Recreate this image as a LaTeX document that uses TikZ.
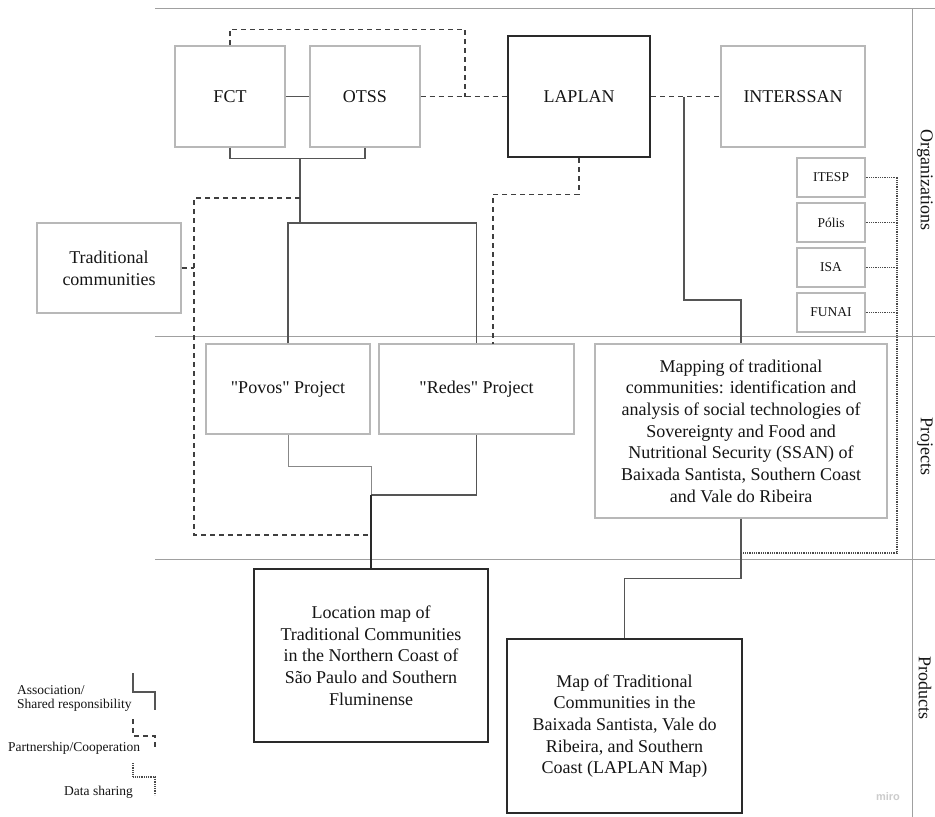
\documentclass[tikz,border=0pt]{standalone}
\usepackage{fontspec}
\setmainfont{Liberation Serif}
\newfontfamily\mirofont{Liberation Sans}
\definecolor{boxgray}{HTML}{B8B8B8}
\definecolor{sepgray}{HTML}{A0A0A0}
\definecolor{linegray}{HTML}{555555}
\definecolor{darkline}{HTML}{2A2A2A}
\definecolor{txt}{HTML}{151515}
\tikzset{
  lbox/.style={draw=boxgray, line width=1.1pt, fill=white, inner sep=0pt, align=center, text=txt, font=\fontsize{18}{21.7}\selectfont},
  kbox/.style={draw=darkline, line width=2.2pt, fill=white, inner sep=0pt, align=center, text=txt, font=\fontsize{18}{21.7}\selectfont},
  sbox/.style={draw=boxgray, line width=1.1pt, fill=white, inner sep=0pt, align=center, text=txt, font=\fontsize{13.5}{15}\selectfont, minimum width=68pt, minimum height=39pt},
  assoc/.style={draw=linegray, line width=1.2pt},
  assocl/.style={draw=linegray!70, line width=1pt},
  assock/.style={draw=darkline, line width=1.8pt},
  partner/.style={draw=darkline!90, line width=1.2pt, dash pattern=on 5pt off 4pt},
  share/.style={draw=darkline!85, line width=1.1pt, dash pattern=on 1pt off 0.8pt},
  sepline/.style={draw=sepgray, line width=0.9pt},
  lane/.style={rotate=-90, text=txt, font=\fontsize{18}{21.7}\selectfont},
  legtxt/.style={inner sep=0pt, text=txt, font=\fontsize{13.5}{14}\selectfont, align=left}
}
\begin{document}
\begin{tikzpicture}[x=1pt,y=-1pt]
\useasboundingbox[fill=white] (0,0) rectangle (935,817);

% lane separators
\draw[sepline] (155,8) -- (935,8);
\draw[sepline] (155,336.5) -- (935,336.5);
\draw[sepline] (155,559.5) -- (935,559.5);
\draw[sepline] (912,8) -- (912,817);

\node[lane] (lorg) at (925,180) {Organizations};
\node[lane] (lproj) at (925,446) {Projects};
\node[lane] (lprod) at (925,688) {Products};

% organizations
\node[lbox, minimum width=110pt, minimum height=101pt] (fct) at (230,96.5) {FCT};
\node[lbox, minimum width=110pt, minimum height=101pt] (otss) at (365,96.5) {OTSS};
\node[kbox, minimum width=142pt, minimum height=121pt] (laplan) at (579,96.5) {LAPLAN};
\node[lbox, minimum width=144pt, minimum height=101pt] (interssan) at (793,96.5) {INTERSSAN};
\node[sbox] (itesp) at (831,177.5) {ITESP};
\node[sbox] (polis) at (831,222.5) {Pólis};
\node[sbox] (isa) at (831,267.5) {ISA};
\node[sbox] (funai) at (831,312.5) {FUNAI};
\node[lbox, minimum width=144pt, minimum height=90pt] (trad) at (109,268) {Traditional\\communities};

% projects
\node[lbox, minimum width=164pt, minimum height=90pt] (povos) at (288,389) {\textquotedbl Povos\textquotedbl{} Project};
\node[lbox, minimum width=195pt, minimum height=90pt] (redes) at (476.5,389) {\textquotedbl Redes\textquotedbl{} Project};
\node[lbox, minimum width=292pt, minimum height=174pt] (mapping) at (741,431) {Mapping of traditional\\communities: identification and\\analysis of social technologies of\\Sovereignty and Food and\\Nutritional Security (SSAN) of\\Baixada Santista, Southern Coast\\and Vale do Ribeira};

% products
\node[kbox, minimum width=234pt, minimum height=173pt] (location) at (371,655.5) {Location map of\\Traditional Communities\\in the Northern Coast of\\São Paulo and Southern\\Fluminense};
\node[kbox, minimum width=235pt, minimum height=174pt] (map) at (624.5,726) {Map of Traditional\\Communities in the\\Baixada Santista, Vale do\\Ribeira, and Southern\\Coast (LAPLAN Map)};

% helper coordinates
\coordinate (j1) at (300,158);
\coordinate (j2) at (300,223);
\coordinate (d1) at (300,198);
\coordinate (d2) at (194,535);
\coordinate (lt) at (371,535);
\coordinate (c1) at (465,96.5);
\coordinate (r2) at (493,344);
\coordinate (i1) at (684,96.5);
\coordinate (m1) at (371,495);
\coordinate (v1) at (897,177.5);
\coordinate (v2) at (897,553);

% association (solid)
\draw[assoc] (fct.east) -- (otss.west);
\draw[assoc] (fct.south) -- ++(0,11) -| (otss.south);
\draw[assoc] (j1) -- (j2);
\draw[assoc] (povos.north) |- (j2) -| (redes.north);
\draw[assoc] (i1) -- ++(0,203.5) -| (mapping.north);
\draw[assoc] (mapping.south) -- ++(0,60) -| (map.north);
\draw[assocl] (povos.south) -- ++(0,32) -| (m1);
\draw[assoc] (redes.south) |- (m1);
\draw[assock] (m1) -- (location.north);

% partnership (dashed)
\draw[partner] (fct.north) -- ++(0,-16) -| (c1);
\draw[partner] (otss.east) -- (laplan.west);
\draw[partner] (laplan.east) -- (interssan.west);
\draw[partner] (laplan.south) -- ++(0,36) -| (r2);
\draw[partner] (d1) -| (d2) -- (lt);
\draw[partner] (trad.east) -- (trad.east -| d2);

% data sharing (dotted)
\draw[share] (itesp.east) -- (v1) -- (v2) -- (mapping.south |- v2);
\draw[share] (polis.east) -- (polis.east -| v1);
\draw[share] (isa.east) -- (isa.east -| v1);
\draw[share] (funai.east) -- (funai.east -| v1);

% legend
\coordinate (la1) at (133,673);
\coordinate (la2) at (155,710);
\draw[assoc] (la1) -- (133,692) -- (155,692) -- (la2);
\node[legtxt, anchor=west] (lgA) at (17,698) {Association/\\Shared responsibility};
\coordinate (lb1) at (133,719);
\coordinate (lb2) at (155,748);
\draw[partner] (lb1) -- (133,736) -- (155,736) -- (lb2);
\node[legtxt, anchor=west] (lgB) at (8,748) {Partnership/Cooperation};
\coordinate (lc1) at (133,763);
\coordinate (lc2) at (155,795);
\draw[share] (lc1) -- (133,777) -- (155,777) -- (lc2);
\node[legtxt, anchor=east] (lgC) at (133,792) {Data sharing};

% watermark
\node[text=gray!40, font=\mirofont\bfseries\fontsize{11}{12}\selectfont] (miro) at (888,797) {miro};
\end{tikzpicture}
\end{document}
